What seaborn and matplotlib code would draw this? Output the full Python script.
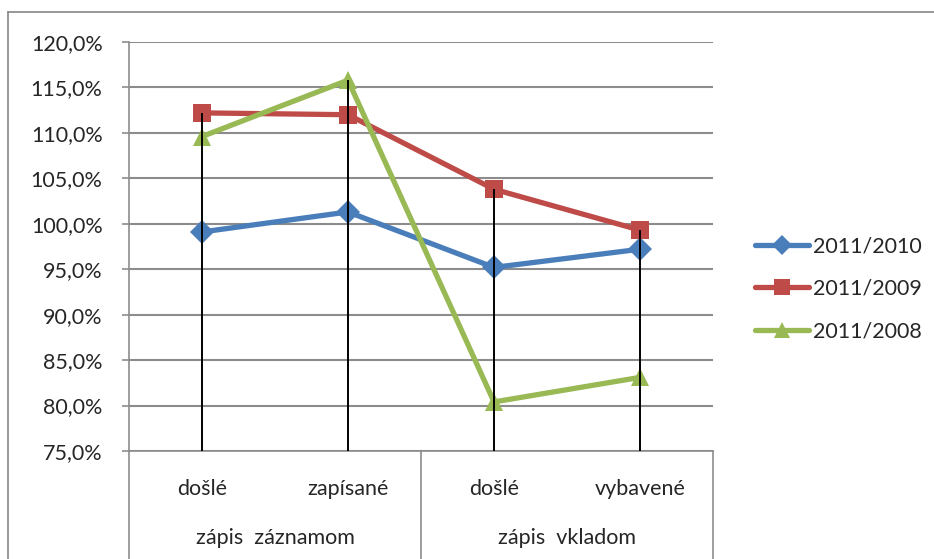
import numpy as np
import pandas as pd
import matplotlib.pyplot as plt
import seaborn as sns
from matplotlib.transforms import blended_transform_factory

# Data
categories = ['došlé', 'zapísané', 'došlé', 'vybavené']
groups = ['zápis  záznamom', 'zápis  vkladom']
series_names = ['2011/2010', '2011/2009', '2011/2008']
vals_2010 = [99.1, 101.3, 95.2, 97.2]
vals_2009 = [112.2, 112.0, 103.8, 99.3]
vals_2008 = [109.6, 115.8, 80.4, 83.1]

colors = {'2011/2010': '#4A7EBB', '2011/2009': '#BE4B48', '2011/2008': '#98B954'}
markers = {'2011/2010': 'D', '2011/2009': 's', '2011/2008': '^'}
msizes = {'2011/2010': 12, '2011/2009': 13, '2011/2008': 13.5}
FS = 15.5

sns.set_theme(style='white')
plt.rcParams['font.family'] = ['Lato', 'DejaVu Sans']

rows = []
for name, vals in zip(series_names, [vals_2010, vals_2009, vals_2008]):
    for i, v in enumerate(vals):
        rows.append({'pos': i, 'value': v, 'series': name})
df = pd.DataFrame(rows)

fig = plt.figure(figsize=(9.34, 5.59), dpi=100)
ax = fig.add_axes([129 / 934, 1 - 451 / 559, 584 / 934, 409 / 559])

# outer chart border
fig.add_artist(plt.Line2D([8 / 934, 8 / 934], [0, 1 - 12 / 559], transform=fig.transFigure,
                          color='#868686', lw=1.2))
fig.add_artist(plt.Line2D([8 / 934, 1], [1 - 12 / 559, 1 - 12 / 559], transform=fig.transFigure,
                          color='#868686', lw=1.2))

ax.set_xlim(-0.5, 3.5)
ax.set_ylim(75, 120)
ax.set_yticks(np.arange(75, 121, 5))
ax.set_yticklabels([f'{t:.1f}%'.replace('.', ',') for t in np.arange(75, 121, 5)], fontsize=FS)
ax.yaxis.grid(True, color='#8c8c8c', lw=1.5)
ax.set_axisbelow(True)
ax.tick_params(axis='y', length=5, color='#8c8c8c', width=1.2, pad=14, left=True)
for s in ['top', 'right']:
    ax.spines[s].set_visible(False)
ax.spines['left'].set_color('#8c8c8c')
ax.spines['left'].set_linewidth(1.2)
ax.spines['bottom'].set_color('#8c8c8c')
ax.spines['bottom'].set_linewidth(1.2)

sns.lineplot(data=df, x='pos', y='value', hue='series', style='series', palette=colors,
             markers=markers, dashes=False, lw=3.8, markeredgewidth=0, ax=ax, legend=False,
             zorder=3)
for line, name in zip(ax.lines, series_names):
    line.set_markersize(msizes[name])

# drop lines
tops = np.max([vals_2010, vals_2009, vals_2008], axis=0)
ax.vlines(range(len(categories)), 75, tops, color='black', lw=1.4, zorder=4)

# multi-level category axis
ax.set_xticks([])
ax.set_xlabel('')
ax.set_ylabel('')
trans = blended_transform_factory(ax.transData, ax.transAxes)
for i, c in enumerate(categories):
    ax.text(i, -38 / 409, c, transform=trans, ha='center', va='center', fontsize=FS)
for j, g in enumerate(groups):
    ax.text(0.5 + 2 * j, -87 / 409, g, transform=trans, ha='center', va='center', fontsize=FS)
for xs in [-0.5, 1.5, 3.5]:
    ax.plot([xs, xs], [0, -108 / 409], transform=trans, color='#8c8c8c', lw=1.2, clip_on=False)

# legend
handles = [plt.Line2D([], [], color=colors[n], marker=markers[n], lw=3.8,
                      markersize=msizes[n] * 0.85, markeredgewidth=0) for n in series_names]
fig.legend(handles, series_names, loc='center left', bbox_to_anchor=(736 / 934, 1 - 289 / 559),
           frameon=False, fontsize=FS, handlelength=2.5, handletextpad=0.2, labelspacing=1.05)

fig.savefig('out.png', dpi=100)
